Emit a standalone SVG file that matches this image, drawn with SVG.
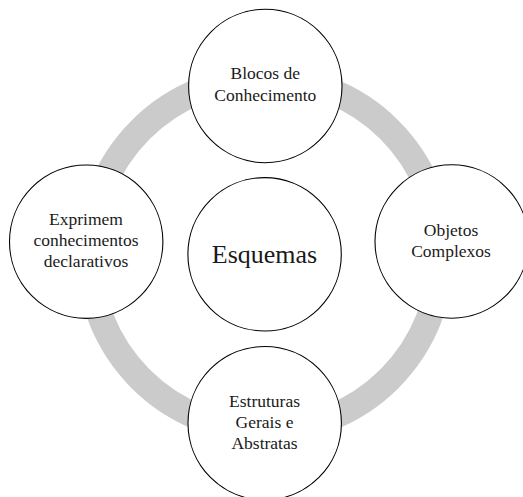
<svg xmlns="http://www.w3.org/2000/svg" width="523" height="497" viewBox="0 0 523 497">
<style>
.node circle{fill:#ffffff;stroke:#000000;stroke-width:1.1}
.lbl{font-family:"Liberation Serif","DejaVu Serif",serif;font-size:17.5px;fill:#1a1a1a;text-anchor:middle}
.big{font-size:26px}
.ring{fill:none;stroke:#cbcbcb;stroke-width:26}
</style>
<rect width="523" height="497" fill="#ffffff"/>
<g id="connectors">
<circle class="ring" cx="265" cy="254.3" r="176"/>
</g>
<g id="node-top" class="node">
<circle cx="265.3" cy="86" r="76.7"/>
<text class="lbl" x="265.3" y="79.3">Blocos de</text>
<text class="lbl" x="265.3" y="100.7">Conhecimento</text>
</g>
<g id="node-left" class="node">
<circle cx="86.2" cy="241.7" r="76.7"/>
<text class="lbl" x="86" y="225">Exprimem</text>
<text class="lbl" x="86" y="246">conhecimentos</text>
<text class="lbl" x="86" y="267">declarativos</text>
</g>
<g id="node-right" class="node">
<circle cx="451.7" cy="241.5" r="76.7"/>
<text class="lbl" x="451" y="236">Objetos</text>
<text class="lbl" x="451" y="257.3">Complexos</text>
</g>
<g id="node-center" class="node">
<circle cx="264.6" cy="254.3" r="76.7"/>
<text class="lbl big" x="264.5" y="262.7">Esquemas</text>
</g>
<g id="node-bottom" class="node">
<circle cx="264.7" cy="423.2" r="76.7"/>
<text class="lbl" x="264.5" y="406.6">Estruturas</text>
<text class="lbl" x="264.5" y="428">Gerais e</text>
<text class="lbl" x="264.5" y="449.4">Abstratas</text>
</g>
</svg>
